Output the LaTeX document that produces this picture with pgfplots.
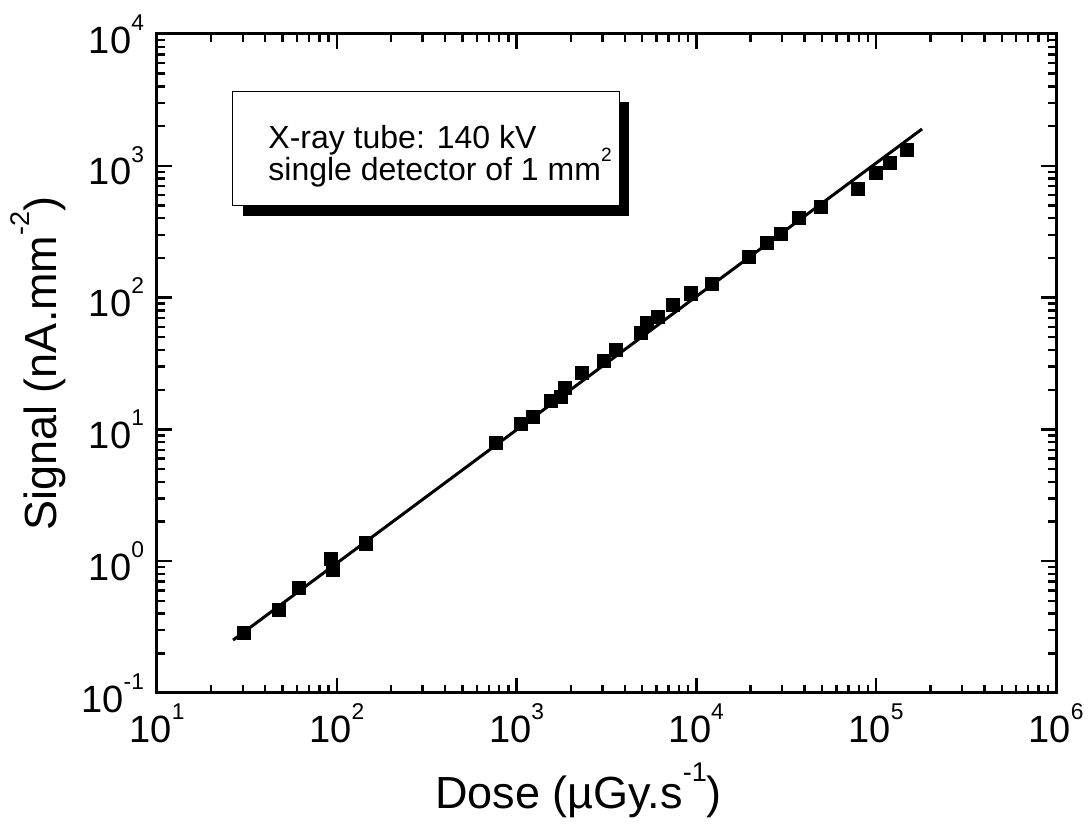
\documentclass[border=0pt]{standalone}
\usepackage{graphicx}
\usepackage{pgfplots}
\pgfplotsset{compat=1.18}
\usepackage{fontspec}
\setmainfont{Liberation Sans}

% exponent set small and high, as in the axis labels
\newcommand{\ex}[1]{\raisebox{0.6em}{\scalebox{0.6}{#1}}}

% measured signal versus dose rate
\pgfplotstableread{
dose signal
30.5 0.285
47.7 0.426
61.6 0.626
95.2 0.857
92.9 1.04
145 1.37
768 7.88
1057 11.0
1234 12.4
1553 16.4
1766 17.6
1859 20.6
2311 26.8
3062 33.0
3572 40.0
4920 53.9
5310 64.2
6115 71.3
7413 87.9
9330 108
12200 127
19600 203
24700 260
29560 304
37200 402
49300 487
79200 667
99800 882
119000 1050
148000 1318
}\measured

% linear fit drawn over the data
\pgfplotstableread{
dose signal
26.5 0.252
180000 1903
}\fitline

\begin{document}
\begin{tikzpicture}
\begin{axis}[
  xmode=log, ymode=log,
  scale only axis,
  width=449.5pt, height=329.5pt,
  xmin=10, xmax=1e6, ymin=0.1, ymax=1e4,
  xtick={10,100,1000,10000,100000,1000000},
  xticklabels={10\ex{1},10\ex{2},10\ex{3},10\ex{4},10\ex{5},10\ex{6}},
  ytick={0.1,1,10,100,1000,10000},
  yticklabels={10\ex{-1},10\ex{0},10\ex{1},10\ex{2},10\ex{3},10\ex{4}},
  minor xtick={20,30,40,50,60,70,80,90,200,300,400,500,600,700,800,900,2000,3000,4000,5000,6000,7000,8000,9000,20000,30000,40000,50000,60000,70000,80000,90000,200000,300000,400000,500000,600000,700000,800000,900000},
  minor ytick={0.2,0.3,0.4,0.5,0.6,0.7,0.8,0.9,2,3,4,5,6,7,8,9,20,30,40,50,60,70,80,90,200,300,400,500,600,700,800,900,2000,3000,4000,5000,6000,7000,8000,9000},
  tick align=inside,
  major tick length=7.5pt,
  minor tick length=4pt,
  every tick/.style={black, line width=1.2pt},
  axis line style={line width=1.5pt},
  ticklabel style={font=\fontsize{19}{21}\selectfont},
  xticklabel style={yshift=-2pt},
  yticklabel style={xshift=-3pt},
  xlabel={Dose (µGy.s\ex{-1})},
  ylabel={Signal (nA.mm\ex{-2})},
  label style={font=\fontsize{22.5}{26}\selectfont},
  xlabel style={yshift=-3pt, xshift=-14pt},
  ylabel style={yshift=1pt},
  clip=false,
]
\addplot[black, line width=1.5pt] table[x=dose, y=signal] {\fitline};
\addplot[only marks, mark=square*, mark size=3.4pt, black] table[x=dose, y=signal] {\measured};

% note box with drop shadow
\fill[black] ([xshift=5pt,yshift=-5pt]rel axis cs:0.0845,0.912) rectangle ([xshift=5pt,yshift=-5pt]rel axis cs:0.514,0.739);
\draw[fill=white, line width=0.5pt] (rel axis cs:0.0845,0.912) rectangle (rel axis cs:0.514,0.739);
\node[anchor=base west, font=\fontsize{16}{20}\selectfont, inner sep=0pt] at (rel axis cs:0.1235,0.826) {X-ray tube: 140 kV};
\node[anchor=base west, font=\fontsize{16}{20}\selectfont, inner sep=0pt] at (rel axis cs:0.1235,0.778) {single detector of 1 mm\ex{2}};
\end{axis}
\pgfresetboundingbox
\path (-78.5pt,-67.5pt) rectangle (466pt,346.5pt);
\end{tikzpicture}
\end{document}
